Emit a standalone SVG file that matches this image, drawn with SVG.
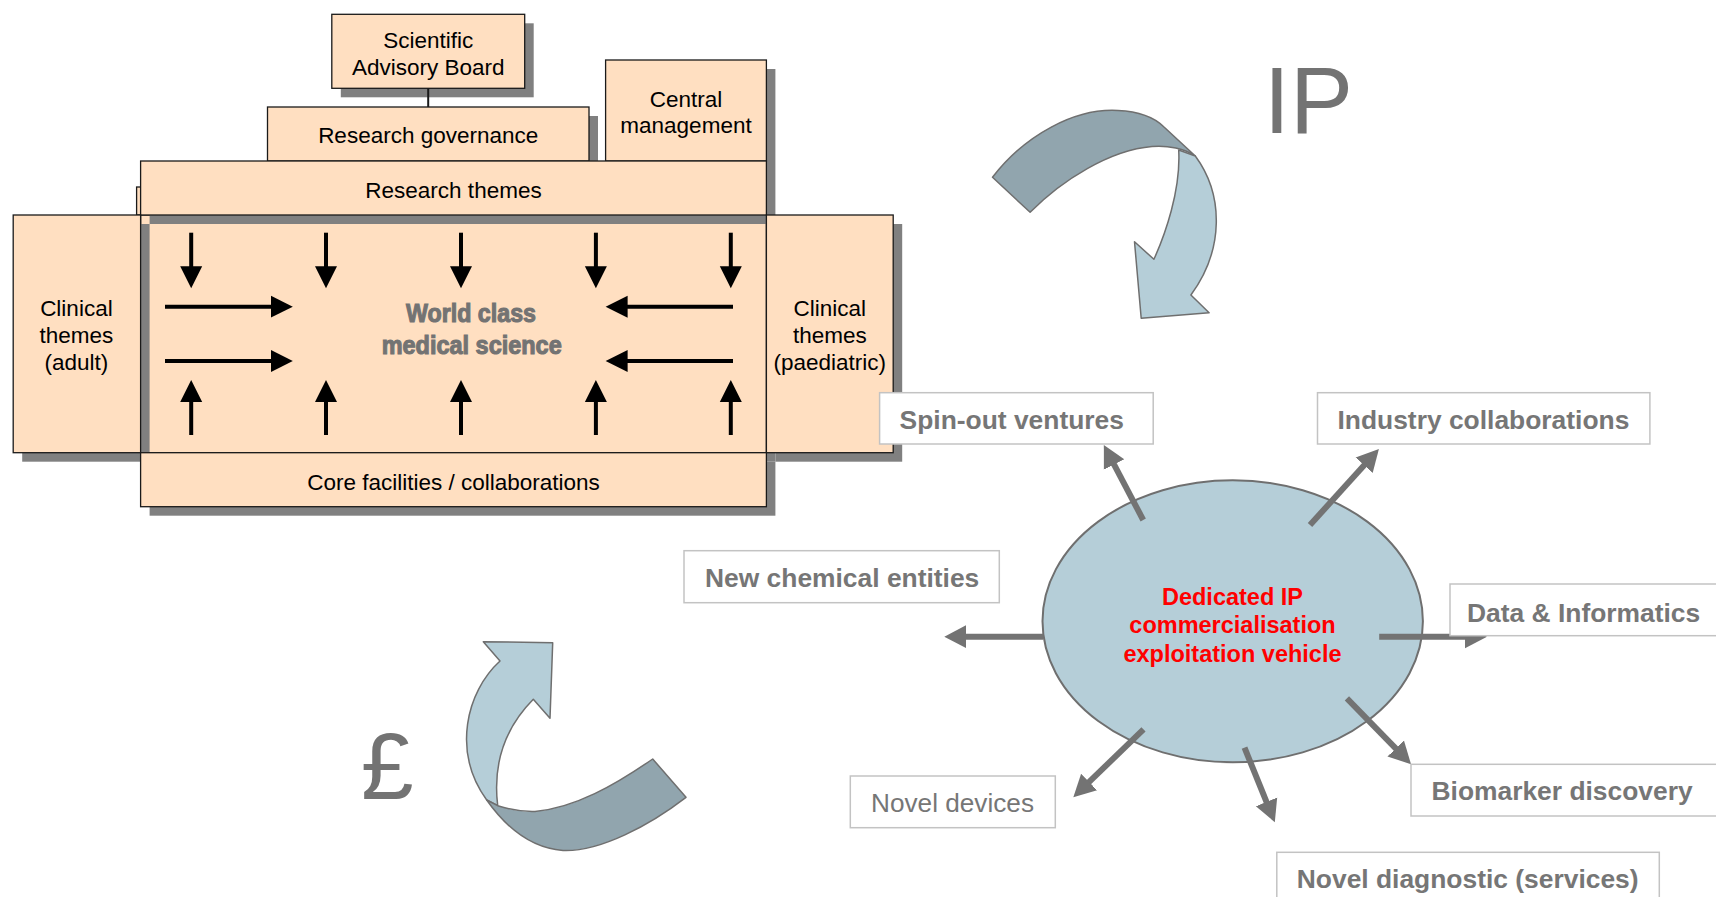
<svg xmlns="http://www.w3.org/2000/svg" width="1716" height="897" viewBox="0 0 1716 897">
<defs>
<style>
.box{fill:#ffdfc1;stroke:#1a1a1a;stroke-width:1.3}
.sh{fill:#808080}
.lt{font-family:"Liberation Sans",Arial,sans-serif;font-size:22.5px;fill:#000;text-anchor:middle}
.wc{font-family:"Liberation Sans",Arial,sans-serif;font-size:26px;font-weight:bold;fill:#737373;stroke:#737373;stroke-width:1.1;text-anchor:middle}
.ob{fill:#fff;stroke:#c3c3c3;stroke-width:1.5}
.ot{font-family:"Liberation Sans",Arial,sans-serif;font-size:26.4px;font-weight:bold;fill:#767676}
.otr{font-family:"Liberation Sans",Arial,sans-serif;font-size:26.2px;fill:#767676}
.et{font-family:"Liberation Sans",Arial,sans-serif;font-size:23.5px;font-weight:bold;fill:#ff0000;text-anchor:middle}
.big{font-family:"Liberation Sans",Arial,sans-serif;font-size:94.5px;fill:#737373}
.ka{stroke:#000;stroke-width:4;fill:none;marker-end:url(#hk)}
.ga{stroke:#737373;stroke-width:6;fill:none;marker-end:url(#hg)}
.dk{fill:#91a5ae;stroke:#6f6f6f;stroke-width:1.5;stroke-linejoin:round}
.lb{fill:#b5ced8;stroke:#6f6f6f;stroke-width:1.5;stroke-linejoin:round}
</style>
<marker id="hk" markerUnits="userSpaceOnUse" markerWidth="24" markerHeight="24" viewBox="0 -12 24 24" refX="1" refY="0" orient="auto"><path d="M0,-11 L22,0 L0,11 Z" fill="#000"/></marker>
<marker id="hg" markerUnits="userSpaceOnUse" markerWidth="24" markerHeight="26" viewBox="0 -13 24 26" refX="1" refY="0" orient="auto"><path d="M0,-11.5 L22,0 L0,11.5 Z" fill="#737373"/></marker>
</defs>
<rect width="1716" height="897" fill="#fff"/>

<!-- Left organisation diagram -->
<g id="hidden-box"><rect class="box" x="136.6" y="187" width="20" height="28"/></g>
<g id="sab">
<rect class="sh" x="340.8" y="23.3" width="192.9" height="74"/>
<rect class="box" x="331.8" y="14.3" width="192.9" height="74"/>
<text class="lt" x="428.2" y="48">Scientific</text>
<text class="lt" x="428.2" y="74.5">Advisory Board</text>
</g>
<g id="sab-link"><line x1="428.2" y1="88.3" x2="428.2" y2="107" stroke="#1a1a1a" stroke-width="2"/></g>
<g id="research-governance">
<rect class="sh" x="276.5" y="116" width="321.5" height="54"/>
<rect class="box" x="267.5" y="107" width="321.5" height="54"/>
<text class="lt" x="428.2" y="142.5">Research governance</text>
</g>
<g id="central-management">
<rect class="sh" x="614.6" y="69" width="160.8" height="101"/>
<rect class="box" x="605.6" y="60" width="160.8" height="101"/>
<text class="lt" x="686" y="106.5">Central</text>
<text class="lt" x="686" y="133">management</text>
</g>
<g id="world-class">
<rect class="sh" x="149.6" y="224" width="625.8" height="237.7"/>
<rect class="box" x="140.6" y="215" width="625.8" height="237.7"/>
<text class="wc" x="471" y="321.7" textLength="130" lengthAdjust="spacingAndGlyphs">World class</text>
<text class="wc" x="471.7" y="354" textLength="180" lengthAdjust="spacingAndGlyphs">medical science</text>
</g>
<g id="research-themes">
<rect class="sh" x="149.6" y="170" width="625.8" height="54"/>
<rect class="box" x="140.6" y="161" width="625.8" height="54"/>
<text class="lt" x="453.5" y="197.5">Research themes</text>
</g>
<g id="clinical-adult">
<rect class="sh" x="22.2" y="224" width="127.4" height="237.7"/>
<rect class="box" x="13.2" y="215" width="127.4" height="237.7"/>
<text class="lt" x="76.4" y="316">Clinical</text>
<text class="lt" x="76.4" y="343">themes</text>
<text class="lt" x="76.4" y="370">(adult)</text>
</g>
<g id="clinical-paediatric">
<rect class="sh" x="775.4" y="224" width="126.8" height="237.7"/>
<rect class="box" x="766.4" y="215" width="126.8" height="237.7"/>
<text class="lt" x="829.8" y="316">Clinical</text>
<text class="lt" x="829.8" y="343">themes</text>
<text class="lt" x="829.8" y="370">(paediatric)</text>
</g>
<g id="core-facilities">
<rect class="sh" x="149.6" y="461.7" width="625.8" height="54"/>
<rect class="box" x="140.6" y="452.7" width="625.8" height="54"/>
<text class="lt" x="453.5" y="489.5">Core facilities / collaborations</text>
</g>

<!-- Curved arrows and symbols -->
<g id="ip-arrow">
<path class="dk" d="M992.5,177.3 C1025,135 1075,108 1118,110.5 C1140,111.5 1155,118 1164,127 L1195.3,156 C1185,149 1168,145 1152,146.5 C1110,150 1062,180 1030.1,212.3 Z"/>
<path class="lb" d="M1195.3,156 C1224,195 1224,250 1190.9,295 L1209.1,312.7 L1141.2,318.3 L1134.5,241.7 L1153.9,259.3 C1165,235 1181,190 1178.7,150 Z"/>
</g>
<g id="ip-label"><text class="big" x="1263.7" y="132.7">IP</text></g>
<g id="money-arrow">
<path class="lb" d="M497.7,805.7 C494,775 498,735 533.3,699.3 L550,718.3 L552.7,642.7 L483.3,641.7 L500,661 C466,692 452,752 486.7,800 Z"/>
<path class="dk" d="M486.7,800 C505,826 530,848 563,850.5 C600,852 650,825 686,797.3 L652.7,759 C615,785 575,808 535,811.5 C520,812 508,809 497.7,805.7 Z"/>
</g>
<g id="pound-label"><text class="big" x="361" y="799">£</text></g>

<!-- Ellipse -->
<g id="ip-vehicle">
<ellipse cx="1232.7" cy="621.3" rx="190.2" ry="141" fill="#b5ced8" stroke="#6f6f6f" stroke-width="2"/>
<text class="et" x="1232.5" y="604.5">Dedicated IP</text>
<text class="et" x="1232.5" y="633">commercialisation</text>
<text class="et" x="1232.5" y="661.5">exploitation vehicle</text>
</g>

<!-- Connectors -->
<g id="connectors">
<line class="ka" x1="191.2" y1="232.7" x2="191.2" y2="267.3"/>
<line class="ka" x1="326" y1="232.7" x2="326" y2="267.3"/>
<line class="ka" x1="461" y1="232.7" x2="461" y2="267.3"/>
<line class="ka" x1="595.9" y1="232.7" x2="595.9" y2="267.3"/>
<line class="ka" x1="730.8" y1="232.7" x2="730.8" y2="267.3"/>
<line class="ka" x1="191.2" y1="435" x2="191.2" y2="401"/>
<line class="ka" x1="326" y1="435" x2="326" y2="401"/>
<line class="ka" x1="461" y1="435" x2="461" y2="401"/>
<line class="ka" x1="595.9" y1="435" x2="595.9" y2="401"/>
<line class="ka" x1="730.8" y1="435" x2="730.8" y2="401"/>
<line class="ka" x1="165" y1="306.7" x2="271.8" y2="306.7"/>
<line class="ka" x1="165" y1="361" x2="271.8" y2="361"/>
<line class="ka" x1="733" y1="306.7" x2="626.6" y2="306.7"/>
<line class="ka" x1="733" y1="361" x2="626.6" y2="361"/>
<line class="ga" x1="1143.2" y1="520" x2="1113.6" y2="463.6"/>
<line class="ga" x1="1310" y1="525" x2="1364.8" y2="464.6"/>
<line class="ga" x1="1043.3" y1="636.7" x2="965.3" y2="636.7"/>
<line class="ga" x1="1379.2" y1="636.7" x2="1466" y2="636.7"/>
<line class="ga" x1="1346.9" y1="698.3" x2="1396.4" y2="749.2"/>
<line class="ga" x1="1244.5" y1="747.7" x2="1266.9" y2="802.8"/>
<line class="ga" x1="1143.5" y1="729.3" x2="1088.4" y2="782.7"/>
</g>

<!-- Outcome boxes -->
<g id="spin-out">
<rect class="ob" x="879.6" y="392.7" width="273.6" height="51.3"/>
<text class="ot" x="899.6" y="428.5">Spin-out ventures</text>
</g>
<g id="industry">
<rect class="ob" x="1317.5" y="392.7" width="332.4" height="51.3"/>
<text class="ot" x="1337.5" y="428.5">Industry collaborations</text>
</g>
<g id="new-chemical">
<rect class="ob" x="684" y="550.7" width="315.3" height="52"/>
<text class="ot" x="705" y="586.7">New chemical entities</text>
</g>
<g id="data-informatics">
<rect class="ob" x="1450" y="584" width="290" height="51.7"/>
<text class="ot" x="1467" y="621.5">Data &amp; Informatics</text>
</g>
<g id="biomarker">
<rect class="ob" x="1411" y="764.3" width="330" height="51.7"/>
<text class="ot" x="1431.5" y="799.5">Biomarker discovery</text>
</g>
<g id="novel-devices">
<rect class="ob" x="850.3" y="776" width="205" height="51.7"/>
<text class="otr" x="871" y="811.7">Novel devices</text>
</g>
<g id="novel-diagnostic">
<rect class="ob" x="1276.8" y="852.3" width="382.5" height="60"/>
<text class="ot" x="1296.8" y="887.5">Novel diagnostic (services)</text>
</g>
</svg>
